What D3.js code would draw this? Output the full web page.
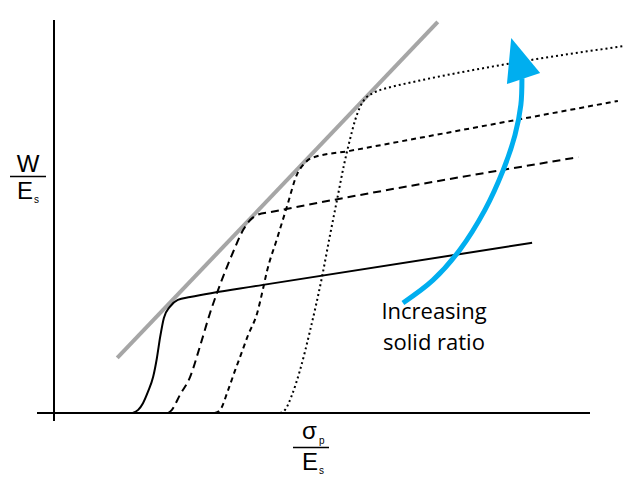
<!DOCTYPE html>
<html>
<head>
<meta charset="utf-8">
<script src="https://cdn.jsdelivr.net/npm/d3@7/dist/d3.min.js"></script>
<style>
  html, body { margin: 0; padding: 0; background: #fff; }
  svg { display: block; }
  text { font-family: "Open Sans", "Noto Sans", sans-serif; fill: #000; }
  .axis-label text { font-family: "Liberation Sans", Arial, sans-serif; }
</style>
</head>
<body>
<svg id="chart" width="626" height="479"></svg>
<script>
// Compression curves, W/Es against σp/Es (arbitrary units, 0–100 on each axis)
const solidCurve = [
  [14.7, 0], [15.7, 0.8], [16.6, 2.5], [17.5, 5.3], [18.5, 9.2], [19.2, 14.0],
  [19.8, 19.3], [20.5, 24.2], [21.6, 27.0], [23.1, 28.8], [25.4, 29.5],
  [39.0, 32.6], [89.2, 43.3]
];
const longDashCurve = [
  [21.3, 0], [22.0, 0.8], [23.5, 4.6], [25.4, 9.2], [27.2, 16.8], [29.1, 25.4],
  [31.3, 33.8], [33.4, 40.9], [35.3, 46.6], [36.6, 49.1], [38.1, 50.5],
  [40.3, 51.1], [97.8, 65.1]
];
const shortDashCurve = [
  [30.0, 0], [31.0, 0.8], [32.5, 5.9], [33.8, 10.9], [34.7, 14.2], [36.2, 19.8],
  [37.9, 25.4], [39.0, 31.6], [39.7, 35.9], [41.6, 44.3], [43.5, 52.7],
  [45.3, 60.6], [46.8, 63.6], [48.1, 64.9], [55.2, 66.7], [105.2, 79.4]
];
const dottedCurve = [
  [42.2, 0], [43.1, 0.8], [44.4, 4.6], [45.9, 10.9], [47.8, 21.1], [50.0, 34.6],
  [51.5, 45.3], [52.8, 54.2], [54.1, 63.1], [55.2, 69.5], [56.2, 74.6],
  [57.1, 77.9], [58.2, 80.2], [59.5, 81.4], [62.7, 82.9], [65.9, 83.9],
  [84.5, 88.8], [106.5, 93.4]
];
// Envelope line touching the knee of every curve
const envelopeLine = [[11.8, 14.0], [71.6, 99.5]];
// Trend arrow: stem and head
const arrowStem = [
  [65.1, 28.0], [70.7, 33.8], [75.7, 41.5], [80.4, 51.7], [83.8, 61.8],
  [86.0, 70.7], [87.1, 78.4], [87.3, 85.2]
];
const arrowHead = [[85.3, 95.4], [84.5, 83.7], [90.7, 86.5]];
const annotationLines = ["Increasing", "solid ratio"];

const svg = d3.select("#chart");
const x = d3.scaleLinear().domain([0, 100]).range([54, 590]);
const y = d3.scaleLinear().domain([0, 100]).range([413, 20]);

const line = d3.line().x(d => x(d[0])).y(d => y(d[1]));
const curve = d3.line().x(d => x(d[0])).y(d => y(d[1])).curve(d3.curveMonotoneX);
const arrowCurve = d3.line().x(d => x(d[0])).y(d => y(d[1])).curve(d3.curveCatmullRom.alpha(0.5));

// Axes (no ticks)
svg.append("line").attr("x1", x(0)).attr("x2", x(0))
  .attr("y1", y(100)).attr("y2", y(0) + 8)
  .attr("stroke", "#000").attr("stroke-width", 2);
svg.append("line").attr("x1", x(0) - 17).attr("x2", x(100))
  .attr("y1", y(0)).attr("y2", y(0))
  .attr("stroke", "#000").attr("stroke-width", 2);

// Envelope
svg.append("path").attr("d", line(envelopeLine))
  .attr("fill", "none").attr("stroke", "#a6a6a6").attr("stroke-width", 4);

// Curves
const series = [
  { data: solidCurve, dash: null },
  { data: longDashCurve, dash: "8,5" },
  { data: shortDashCurve, dash: "5,4" },
  { data: dottedCurve, dash: "2,3" }
];
series.forEach(s => {
  svg.append("path").attr("d", curve(s.data))
    .attr("fill", "none").attr("stroke", "#000").attr("stroke-width", 2)
    .attr("stroke-dasharray", s.dash);
});

// Arrow
svg.append("path").attr("d", arrowCurve(arrowStem))
  .attr("fill", "none").attr("stroke", "#00aeef").attr("stroke-width", 5);
svg.append("path").attr("d", line(arrowHead) + "Z").attr("fill", "#00aeef");

// Annotation
svg.append("text").attr("x", 434).attr("y", 319).attr("text-anchor", "middle")
  .attr("font-size", 22).text(annotationLines[0]);
svg.append("text").attr("x", 434).attr("y", 350).attr("text-anchor", "middle")
  .attr("font-size", 22).text(annotationLines[1]);

// Y axis label: W / Es
const yl = svg.append("g").attr("class", "axis-label");
yl.append("text").attr("x", 28).attr("y", 172).attr("text-anchor", "middle")
  .attr("font-size", 24).text("W");
yl.append("line").attr("x1", 10).attr("x2", 46).attr("y1", 176.5).attr("y2", 176.5)
  .attr("stroke", "#000").attr("stroke-width", 1.3);
yl.append("text").attr("x", 17).attr("y", 199).attr("font-size", 24).text("E");
yl.append("text").attr("x", 34).attr("y", 203).attr("font-size", 10).text("s");

// X axis label: σp / Es
const xl = svg.append("g").attr("class", "axis-label");
xl.append("text").attr("x", 302).attr("y", 439).attr("font-size", 24).text("σ");
xl.append("text").attr("x", 319).attr("y", 444).attr("font-size", 10).text("p");
xl.append("line").attr("x1", 293).attr("x2", 329).attr("y1", 447.5).attr("y2", 447.5)
  .attr("stroke", "#000").attr("stroke-width", 1.3);
xl.append("text").attr("x", 302).attr("y", 470).attr("font-size", 24).text("E");
xl.append("text").attr("x", 319).attr("y", 474).attr("font-size", 10).text("s");
</script>
</body>
</html>
